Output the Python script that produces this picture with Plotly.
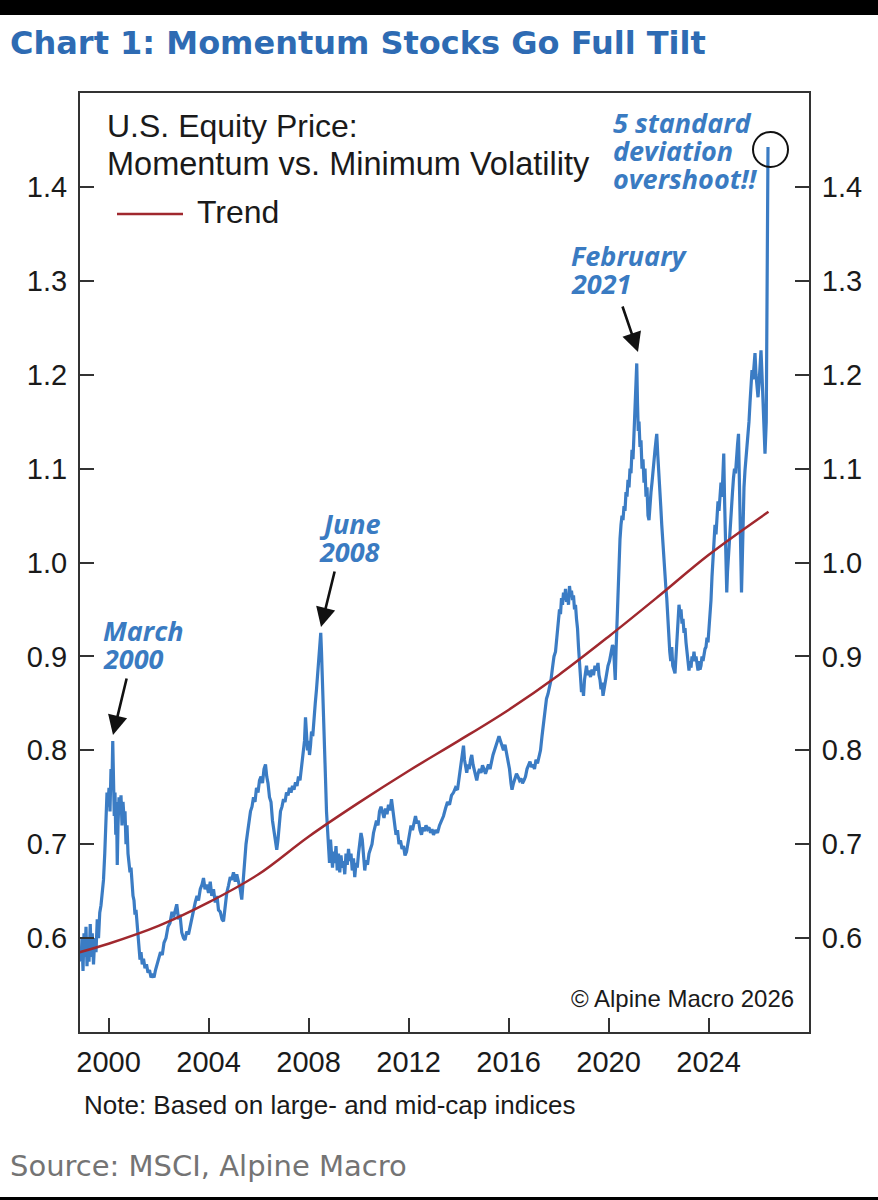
import plotly.graph_objects as go

# ---------------- data ----------------
mom_year = [
    1998.90, 1998.94, 1998.98, 1999.02, 1999.06, 1999.10, 1999.14, 1999.18, 1999.22, 1999.27,
    1999.31, 1999.35, 1999.40, 1999.45, 1999.50, 1999.55, 1999.60, 1999.65, 1999.70, 1999.75,
    1999.80, 1999.85, 1999.90, 1999.94, 1999.98, 2000.02, 2000.06, 2000.10, 2000.14, 2000.17,
    2000.20, 2000.23, 2000.26, 2000.29, 2000.32, 2000.35, 2000.38, 2000.42, 2000.46, 2000.50,
    2000.54, 2000.58, 2000.62, 2000.66, 2000.70, 2000.74, 2000.78, 2000.82, 2000.86, 2000.90,
    2000.94, 2000.98, 2001.02, 2001.06, 2001.10, 2001.14, 2001.18, 2001.22, 2001.26, 2001.30,
    2001.35, 2001.40, 2001.46, 2001.52, 2001.58, 2001.64, 2001.70, 2001.76, 2001.82, 2001.88,
    2001.94, 2002.00, 2002.08, 2002.15, 2002.22, 2002.30, 2002.38, 2002.46, 2002.54, 2002.60,
    2002.66, 2002.73, 2002.80, 2002.86, 2002.93, 2003.00, 2003.06, 2003.13, 2003.20, 2003.27,
    2003.34, 2003.40, 2003.47, 2003.54, 2003.60, 2003.67, 2003.74, 2003.80, 2003.86, 2003.93,
    2004.00, 2004.07, 2004.13, 2004.20, 2004.27, 2004.34, 2004.40, 2004.47, 2004.54, 2004.60,
    2004.66, 2004.73, 2004.80, 2004.87, 2004.93, 2005.00, 2005.07, 2005.13, 2005.20, 2005.27,
    2005.33, 2005.38, 2005.44, 2005.50, 2005.56, 2005.62, 2005.68, 2005.74, 2005.80, 2005.86,
    2005.92, 2005.98, 2006.04, 2006.10, 2006.16, 2006.22, 2006.28, 2006.33, 2006.38, 2006.44,
    2006.50, 2006.56, 2006.62, 2006.68, 2006.73, 2006.78, 2006.83, 2006.88, 2006.94, 2007.00,
    2007.06, 2007.12, 2007.18, 2007.24, 2007.30, 2007.36, 2007.42, 2007.48, 2007.54, 2007.60,
    2007.66, 2007.72, 2007.78, 2007.84, 2007.88, 2007.92, 2007.96, 2008.00, 2008.04, 2008.08,
    2008.12, 2008.17, 2008.22, 2008.27, 2008.32, 2008.37, 2008.42, 2008.46, 2008.49, 2008.52,
    2008.56, 2008.60, 2008.64, 2008.68, 2008.72, 2008.76, 2008.80, 2008.84, 2008.88, 2008.92,
    2008.96, 2009.00, 2009.05, 2009.10, 2009.15, 2009.20, 2009.25, 2009.30, 2009.35, 2009.40,
    2009.45, 2009.50, 2009.55, 2009.60, 2009.65, 2009.70, 2009.75, 2009.80, 2009.85, 2009.90,
    2009.95, 2010.00, 2010.05, 2010.10, 2010.15, 2010.20, 2010.25, 2010.30, 2010.36, 2010.42,
    2010.48, 2010.54, 2010.60, 2010.66, 2010.72, 2010.78, 2010.84, 2010.90, 2010.96, 2011.02,
    2011.08, 2011.14, 2011.20, 2011.26, 2011.32, 2011.38, 2011.44, 2011.50, 2011.56, 2011.62,
    2011.68, 2011.74, 2011.80, 2011.86, 2011.92, 2011.98, 2012.04, 2012.10, 2012.16, 2012.22,
    2012.28, 2012.34, 2012.40, 2012.46, 2012.52, 2012.58, 2012.64, 2012.70, 2012.76, 2012.82,
    2012.88, 2012.94, 2013.00, 2013.08, 2013.16, 2013.24, 2013.32, 2013.40, 2013.48, 2013.56,
    2013.64, 2013.72, 2013.80, 2013.88, 2013.96, 2014.04, 2014.10, 2014.16, 2014.20, 2014.24,
    2014.28, 2014.33, 2014.38, 2014.43, 2014.48, 2014.53, 2014.58, 2014.63, 2014.68, 2014.73,
    2014.78, 2014.84, 2014.90, 2014.96, 2015.02, 2015.08, 2015.14, 2015.20, 2015.26, 2015.32,
    2015.38, 2015.44, 2015.50, 2015.56, 2015.62, 2015.68, 2015.74, 2015.80, 2015.86, 2015.92,
    2015.98, 2016.04, 2016.10, 2016.14, 2016.20, 2016.26, 2016.32, 2016.38, 2016.44, 2016.50,
    2016.56, 2016.62, 2016.68, 2016.74, 2016.80, 2016.86, 2016.92, 2016.98, 2017.04, 2017.10,
    2017.16, 2017.22, 2017.28, 2017.34, 2017.40, 2017.46, 2017.52, 2017.58, 2017.64, 2017.70,
    2017.76, 2017.82, 2017.88, 2017.94, 2018.00, 2018.04, 2018.08, 2018.12, 2018.16, 2018.20,
    2018.24, 2018.28, 2018.32, 2018.36, 2018.40, 2018.44, 2018.48, 2018.52, 2018.56, 2018.60,
    2018.64, 2018.68, 2018.72, 2018.76, 2018.80, 2018.84, 2018.88, 2018.92, 2018.96, 2019.00,
    2019.04, 2019.08, 2019.12, 2019.16, 2019.22, 2019.28, 2019.34, 2019.40, 2019.46, 2019.52,
    2019.58, 2019.62, 2019.66, 2019.70, 2019.74, 2019.78, 2019.82, 2019.86, 2019.92, 2019.98,
    2020.04, 2020.10, 2020.16, 2020.20, 2020.24, 2020.27, 2020.30, 2020.34, 2020.38, 2020.42,
    2020.46, 2020.50, 2020.54, 2020.58, 2020.62, 2020.66, 2020.70, 2020.74, 2020.78, 2020.82,
    2020.86, 2020.90, 2020.94, 2020.98, 2021.02, 2021.06, 2021.10, 2021.13, 2021.16, 2021.19,
    2021.22, 2021.26, 2021.30, 2021.34, 2021.38, 2021.42, 2021.46, 2021.50, 2021.54, 2021.58,
    2021.62, 2021.66, 2021.70, 2021.74, 2021.78, 2021.82, 2021.86, 2021.90, 2021.93, 2021.97,
    2022.01, 2022.05, 2022.09, 2022.13, 2022.17, 2022.21, 2022.25, 2022.29, 2022.33, 2022.37,
    2022.41, 2022.45, 2022.49, 2022.53, 2022.57, 2022.61, 2022.66, 2022.70, 2022.74, 2022.78,
    2022.82, 2022.86, 2022.90, 2022.94, 2022.98, 2023.02, 2023.06, 2023.10, 2023.14, 2023.18,
    2023.22, 2023.26, 2023.30, 2023.34, 2023.38, 2023.42, 2023.46, 2023.50, 2023.54, 2023.58,
    2023.62, 2023.66, 2023.70, 2023.74, 2023.78, 2023.82, 2023.86, 2023.90, 2023.94, 2023.98,
    2024.02, 2024.06, 2024.10, 2024.14, 2024.18, 2024.22, 2024.26, 2024.30, 2024.34, 2024.38,
    2024.42, 2024.46, 2024.50, 2024.54, 2024.58, 2024.61, 2024.64, 2024.67, 2024.70, 2024.73,
    2024.76, 2024.80, 2024.84, 2024.88, 2024.92, 2024.96, 2025.00, 2025.04, 2025.08, 2025.12,
    2025.16, 2025.20, 2025.23, 2025.26, 2025.29, 2025.32, 2025.35, 2025.38, 2025.42, 2025.46,
    2025.50, 2025.54, 2025.58, 2025.62, 2025.66, 2025.70, 2025.74, 2025.78, 2025.82, 2025.86,
    2025.90, 2025.94, 2025.98, 2026.02, 2026.06, 2026.10, 2026.14, 2026.18, 2026.22, 2026.26,
    2026.31, 2026.38,
]
mom_value = [
    0.575, 0.600, 0.565, 0.605, 0.580, 0.612, 0.570, 0.600, 0.575, 0.615,
    0.580, 0.605, 0.572, 0.600, 0.585, 0.620, 0.600, 0.627, 0.635, 0.650,
    0.662, 0.690, 0.720, 0.755, 0.740, 0.760, 0.735, 0.780, 0.765, 0.810,
    0.770, 0.730, 0.755, 0.710, 0.745, 0.678, 0.720, 0.750, 0.735, 0.752,
    0.720, 0.745, 0.728, 0.735, 0.700, 0.720, 0.690, 0.680, 0.670, 0.675,
    0.655, 0.645, 0.640, 0.625, 0.630, 0.615, 0.600, 0.590, 0.577, 0.585,
    0.572, 0.578, 0.568, 0.572, 0.563, 0.566, 0.558, 0.562, 0.558, 0.566,
    0.572, 0.575, 0.585, 0.582, 0.595, 0.600, 0.612, 0.616, 0.628, 0.622,
    0.630, 0.636, 0.620, 0.625, 0.606, 0.600, 0.598, 0.607, 0.604, 0.614,
    0.620, 0.630, 0.638, 0.645, 0.640, 0.652, 0.657, 0.664, 0.652, 0.657,
    0.648, 0.660, 0.645, 0.652, 0.638, 0.645, 0.630, 0.628, 0.620, 0.618,
    0.632, 0.648, 0.656, 0.665, 0.662, 0.670, 0.660, 0.668, 0.660, 0.652,
    0.641, 0.660, 0.685, 0.700, 0.712, 0.725, 0.735, 0.740, 0.750, 0.745,
    0.760, 0.755, 0.768, 0.772, 0.765, 0.780, 0.785, 0.772, 0.765, 0.750,
    0.745, 0.725, 0.715, 0.700, 0.694, 0.705, 0.725, 0.735, 0.740, 0.748,
    0.745, 0.755, 0.752, 0.760, 0.755, 0.762, 0.758, 0.766, 0.762, 0.772,
    0.768, 0.785, 0.795, 0.810, 0.835, 0.815, 0.800, 0.810, 0.795, 0.805,
    0.820, 0.815, 0.840, 0.850, 0.865, 0.880, 0.895, 0.910, 0.925, 0.905,
    0.875, 0.850, 0.810, 0.770, 0.735, 0.710, 0.695, 0.680, 0.705, 0.685,
    0.675, 0.692, 0.680, 0.698, 0.672, 0.690, 0.670, 0.688, 0.675, 0.682,
    0.668, 0.690, 0.678, 0.695, 0.682, 0.690, 0.672, 0.685, 0.665, 0.680,
    0.675, 0.690, 0.700, 0.712, 0.705, 0.690, 0.672, 0.683, 0.678, 0.690,
    0.694, 0.700, 0.712, 0.718, 0.725, 0.720, 0.735, 0.740, 0.732, 0.728,
    0.738, 0.732, 0.742, 0.736, 0.748, 0.735, 0.718, 0.710, 0.715, 0.700,
    0.704, 0.695, 0.698, 0.688, 0.692, 0.700, 0.708, 0.720, 0.715, 0.725,
    0.730, 0.722, 0.725, 0.715, 0.710, 0.718, 0.714, 0.720, 0.716, 0.718,
    0.712, 0.716, 0.710, 0.715, 0.712, 0.720, 0.725, 0.730, 0.738, 0.745,
    0.742, 0.752, 0.755, 0.760, 0.758, 0.775, 0.785, 0.800, 0.805, 0.790,
    0.782, 0.776, 0.785, 0.780, 0.790, 0.795, 0.785, 0.778, 0.772, 0.768,
    0.775, 0.780, 0.776, 0.784, 0.780, 0.775, 0.780, 0.785, 0.780, 0.790,
    0.795, 0.800, 0.806, 0.812, 0.815, 0.810, 0.806, 0.800, 0.806, 0.798,
    0.790, 0.780, 0.765, 0.758, 0.765, 0.770, 0.775, 0.772, 0.768, 0.770,
    0.765, 0.768, 0.772, 0.780, 0.785, 0.788, 0.782, 0.785, 0.780, 0.790,
    0.786, 0.795, 0.800, 0.815, 0.830, 0.847, 0.855, 0.860, 0.868, 0.875,
    0.888, 0.900, 0.905, 0.925, 0.935, 0.950, 0.945, 0.962, 0.955, 0.968,
    0.960, 0.972, 0.958, 0.965, 0.955, 0.975, 0.965, 0.970, 0.960, 0.965,
    0.950, 0.955, 0.940, 0.930, 0.910, 0.895, 0.880, 0.862, 0.870, 0.858,
    0.875, 0.885, 0.890, 0.880, 0.885, 0.878, 0.886, 0.880, 0.890, 0.885,
    0.893, 0.880, 0.875, 0.865, 0.872, 0.858, 0.865, 0.872, 0.885, 0.890,
    0.895, 0.905, 0.912, 0.910, 0.890, 0.875, 0.905, 0.940, 0.970, 1.000,
    1.025, 1.040, 1.050, 1.045, 1.060, 1.055, 1.075, 1.070, 1.088, 1.080,
    1.100, 1.095, 1.120, 1.110, 1.140, 1.165, 1.190, 1.212, 1.170, 1.140,
    1.150, 1.123, 1.130, 1.100, 1.110, 1.085, 1.100, 1.070, 1.080, 1.050,
    1.045, 1.065, 1.075, 1.085, 1.100, 1.105, 1.120, 1.130, 1.137, 1.115,
    1.090, 1.075, 1.060, 1.040, 1.020, 1.005, 0.990, 0.975, 0.962, 0.940,
    0.925, 0.905, 0.895, 0.910, 0.890, 0.885, 0.882, 0.900, 0.925, 0.940,
    0.955, 0.945, 0.950, 0.935, 0.940, 0.925, 0.930, 0.915, 0.905, 0.900,
    0.885, 0.895, 0.888, 0.900, 0.895, 0.905, 0.895, 0.900, 0.890, 0.885,
    0.895, 0.886, 0.890, 0.900, 0.895, 0.905, 0.908, 0.910, 0.920, 0.915,
    0.930, 0.935, 0.960, 0.985, 1.010, 1.020, 1.040, 1.030, 1.050, 1.065,
    1.055, 1.075, 1.085, 1.070, 1.100, 1.116, 1.070, 1.020, 0.980, 0.968,
    0.990, 1.010, 1.030, 1.045, 1.060, 1.075, 1.090, 1.100, 1.095, 1.115,
    1.125, 1.137, 1.100, 1.040, 0.990, 0.968, 1.000, 1.050, 1.080, 1.098,
    1.110, 1.125, 1.140, 1.150, 1.170, 1.190, 1.205, 1.195, 1.215, 1.223,
    1.200, 1.185, 1.176, 1.190, 1.210, 1.226, 1.200, 1.170, 1.140, 1.116,
    1.150, 1.4425,
]
assert len(mom_year) == len(mom_value)

trend_year = [1998.85, 2000, 2002, 2004, 2006, 2008, 2010, 2012, 2014, 2016, 2018, 2020, 2022, 2024, 2026.4]
trend_value = [0.585, 0.594, 0.613, 0.638, 0.668, 0.708, 0.744, 0.778, 0.810, 0.843, 0.880, 0.921, 0.964, 1.008, 1.054]

x_ticks = [2000, 2004, 2008, 2012, 2016, 2020, 2024]
y_ticks = [0.6, 0.7, 0.8, 0.9, 1.0, 1.1, 1.2, 1.3, 1.4]
y_tick_text = ["0.6", "0.7", "0.8", "0.9", "1.0", "1.1", "1.2", "1.3", "1.4"]

# ---------------- layout geometry (pixels of the 878x1200 page) ----------------
W, H = 878, 1200
X0, X1 = 80, 809      # plot area left/right
Y0, Y1 = 93, 1032     # plot area top/bottom


def px(x):
    return (x - X0) / (X1 - X0)


def py(y):
    return (Y1 - y) / (Y1 - Y0)


BLUE = "#3b7cc4"
RED = "#a0282e"
ANN_BLUE = "#3a7bc2"
AXIS = "#333333"
SANS = "Liberation Sans, Arial, sans-serif"

fig = go.Figure()
fig.add_trace(go.Scatter(x=mom_year, y=mom_value, mode="lines",
                         line=dict(color=BLUE, width=3.2), showlegend=False))
fig.add_trace(go.Scatter(x=trend_year, y=trend_value, mode="lines",
                         line=dict(color=RED, width=2.5, shape="spline"), showlegend=False))
# invisible trace to activate the right-hand axis
fig.add_trace(go.Scatter(x=[2000], y=[1.0], yaxis="y2", mode="lines",
                         line=dict(width=0), showlegend=False, hoverinfo="skip"))

xr = [2000 + (X0 - 108.5) / 25.0, 2000 + (X1 - 108.5) / 25.0]
TICKFONT = dict(size=29, family=SANS, color="#1a1a1a")

fig.update_layout(
    width=W, height=H, autosize=False,
    margin=dict(l=X0, r=W - X1, t=Y0, b=H - Y1),
    paper_bgcolor="white", plot_bgcolor="white",
    font=dict(family=SANS, color="#1a1a1a"),
    xaxis=dict(range=xr, tickvals=x_ticks, ticktext=[str(v) for v in x_ticks],
               ticks="inside", ticklen=14, tickwidth=1.5, tickcolor=AXIS,
               showline=True, linecolor=AXIS, linewidth=2, mirror=True,
               showgrid=False, zeroline=False, tickfont=TICKFONT,
               ticklabelstandoff=3),
    yaxis=dict(range=[0.5, 1.5], tickvals=y_ticks, ticktext=y_tick_text,
               ticks="inside", ticklen=14, tickwidth=1.5, tickcolor=AXIS,
               showline=True, linecolor=AXIS, linewidth=2,
               showgrid=False, zeroline=False, tickfont=TICKFONT,
               ticklabelstandoff=5),
    yaxis2=dict(range=[0.5, 1.5], tickvals=y_ticks, ticktext=y_tick_text,
                overlaying="y", side="right",
                ticks="inside", ticklen=14, tickwidth=1.5, tickcolor=AXIS,
                showline=True, linecolor=AXIS, linewidth=2,
                showgrid=False, zeroline=False, tickfont=TICKFONT,
                ticklabelstandoff=5),
)

ann = []


def text(x, y, s, size, color="#1a1a1a", family=SANS, anchor="left", weight=None):
    f = dict(size=size, color=color, family=family)
    if weight:
        f["weight"] = weight
    ann.append(dict(x=px(x), y=py(y), xref="paper", yref="paper", text=s,
                    showarrow=False, xanchor=anchor, yanchor="middle", font=f))


# title and footers
text(8, 43, "Chart 1: Momentum Stocks Go Full Tilt", 32, "#2e6bb3", "DejaVu Sans, sans-serif", weight=700)
text(8, 1166, "Source: MSCI, Alpine Macro", 29, "#747474", "DejaVu Sans, sans-serif")
text(82, 1105, "Note: Based on large- and mid-cap indices", 26)
text(796, 998, "© Alpine Macro 2026", 24, anchor="right")

# legend block
text(105, 126, "U.S. Equity Price:", 32)
text(105, 164, "Momentum vs. Minimum Volatility", 32.5)
text(195, 212, "Trend", 32)

# blue call-outs
BI = "Open Sans, sans-serif"
text(611, 122, "<b><i>5 standard</i></b>", 27, ANN_BLUE, BI)
text(611, 150, "<b><i>deviation</i></b>", 27, ANN_BLUE, BI)
text(611, 178, "<b><i>overshoot!!</i></b>", 27, ANN_BLUE, BI)
text(569, 255, "<b><i>February</i></b>", 27, ANN_BLUE, BI)
text(569, 283, "<b><i>2021</i></b>", 27, ANN_BLUE, BI)
text(317, 523, "<b><i>June</i></b>", 27, ANN_BLUE, BI)
text(317, 551, "<b><i>2008</i></b>", 27, ANN_BLUE, BI)
text(101, 630, "<b><i>March</i></b>", 27, ANN_BLUE, BI)
text(101, 658, "<b><i>2000</i></b>", 27, ANN_BLUE, BI)


def arrow(x_tail, y_tail, x_tip, y_tip):
    ann.append(dict(x=px(x_tip), y=py(y_tip), xref="paper", yref="paper", text="",
                    showarrow=True, ax=x_tail - x_tip, ay=y_tail - y_tip,
                    arrowhead=2, arrowsize=1.5, arrowwidth=2.6, arrowcolor="#111111",
                    standoff=0))


arrow(622, 305, 638, 352)
arrow(335, 570, 321, 627)
arrow(127, 677, 113, 735)

fig.update_layout(annotations=ann)

shapes = [
    # black strips of the screenshot
    dict(type="rect", xref="paper", yref="paper", x0=px(0), x1=px(W), y0=py(0), y1=py(15),
         fillcolor="black", line=dict(width=0), layer="above"),
    dict(type="rect", xref="paper", yref="paper", x0=px(0), x1=px(W), y0=py(1197), y1=py(1200),
         fillcolor="black", line=dict(width=0), layer="above"),
    # legend sample line
    dict(type="line", xref="paper", yref="paper", x0=px(117), x1=px(183), y0=py(214), y1=py(214),
         line=dict(color=RED, width=2.5)),
    # circle around the spike
    dict(type="circle", xref="paper", yref="paper", x0=px(753), x1=px(788), y0=py(167), y1=py(132),
         line=dict(color="#111111", width=2)),
]
fig.update_layout(shapes=shapes)

fig.write_html("out.html")
